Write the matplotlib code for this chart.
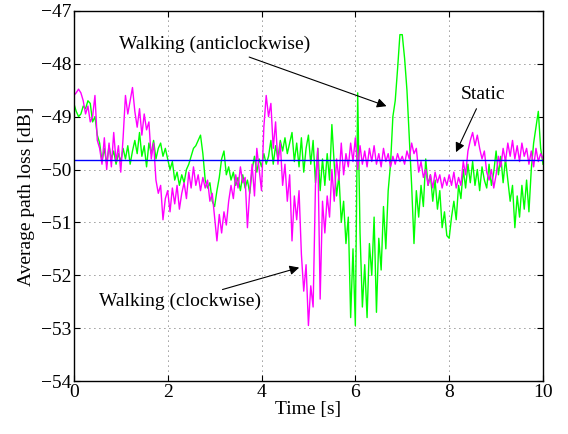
import numpy as np
import matplotlib
matplotlib.use('Agg')
import matplotlib.pyplot as plt

plt.rcParams['font.family'] = ['Liberation Serif', 'DejaVu Serif']
plt.rcParams['font.size'] = 14

# time axis, 0.05 s steps
t = np.arange(201) * 0.05

# walking (clockwise) - magenta
cw = [
    -48.60, -48.55, -48.48, -48.55, -48.70, -48.95, -48.80, -49.10, -49.00, -48.60,
    -49.45, -49.60, -49.90, -49.40, -50.00, -49.50, -49.95, -49.30, -49.85, -49.55,
    -50.05, -49.40, -48.60, -48.95, -48.70, -48.45, -48.90, -49.20, -48.85, -49.35,
    -48.95, -49.25, -49.10, -49.80, -49.50, -50.20, -50.45, -50.30, -50.95, -50.55,
    -50.40, -50.80, -50.35, -50.65, -50.30, -50.75, -50.45, -50.25, -50.55, -50.05,
    -50.35, -49.95, -50.30, -50.10, -50.40, -50.15, -50.35, -50.20, -50.60, -50.45,
    -50.90, -51.35, -50.85, -51.20, -50.80, -51.05, -50.60, -50.30, -50.55, -50.10,
    -50.35, -49.95, -50.25, -50.15, -51.10, -50.40, -49.90, -50.50, -49.60, -50.00,
    -50.40, -49.20, -48.60, -49.00, -48.75, -49.60, -49.10, -49.90, -49.50, -50.30,
    -49.90, -50.60, -50.10, -51.35, -50.50, -50.95, -50.40, -51.60, -52.30, -51.80,
    -52.95, -52.20, -52.60, -50.30, -49.60, -52.45, -50.60, -51.20, -50.50, -50.90,
    -50.00, -50.60, -49.80, -50.20, -49.50, -50.10, -49.70, -49.95, -49.50, -49.85,
    -49.40, -50.00, -49.55, -49.90, -49.65, -49.95, -49.60, -49.85, -49.55, -49.90,
    -49.70, -49.95, -49.60, -49.85, -49.70, -49.95, -49.75, -49.90, -49.70, -49.85,
    -49.75, -49.90, -49.65, -49.80, -49.50, -49.70, -49.60, -50.05, -49.85, -50.15,
    -50.00, -50.30, -50.10, -50.35, -50.05, -50.25, -50.10, -50.35, -50.15, -50.30,
    -50.10, -50.30, -50.05, -50.35, -50.15, -50.30, -49.85, -50.10, -49.65, -49.45,
    -49.30, -49.55, -49.35, -49.60, -49.80, -49.65, -50.05, -50.20, -50.00, -50.35,
    -50.10, -49.75, -49.95, -49.60, -49.85, -49.50, -49.75, -49.45, -49.80, -49.55,
    -49.85, -49.50, -49.75, -49.60, -49.90, -49.65, -49.95, -49.60, -49.85, -49.70,
    -49.80,
]

# walking (anticlockwise) - green
acw = [
    -48.75, -48.90, -49.00, -48.95, -48.80, -48.85, -48.70, -48.75, -49.10, -49.00,
    -49.35, -49.50, -49.85, -49.60, -49.90, -49.55, -49.80, -49.65, -49.90, -49.70,
    -49.85, -49.60, -49.80, -49.55, -49.90, -49.65, -49.45, -49.70, -49.30, -49.75,
    -49.55, -49.95, -49.50, -49.70, -49.45, -49.80, -49.60, -49.50, -49.75, -49.60,
    -49.80, -50.00, -49.85, -50.20, -50.05, -50.30, -50.10, -50.25, -50.00, -49.90,
    -49.75, -49.60, -49.55, -49.45, -49.35, -49.70, -50.20, -50.35, -50.25, -50.60,
    -50.70, -50.40, -50.15, -49.80, -49.65, -50.10, -49.95, -50.20, -50.05, -50.30,
    -50.15, -50.40, -50.10, -50.35, -50.20, -50.45, -50.00, -49.75, -50.05, -49.80,
    -49.95, -49.70, -49.90, -49.75, -49.45, -49.90, -49.55, -49.80, -49.45, -49.65,
    -49.40, -49.70, -49.50, -49.30, -49.85, -49.50, -49.95, -49.40, -50.05, -49.60,
    -49.35, -49.90, -49.45, -50.25, -49.60, -50.40, -49.80, -50.30, -49.70, -50.20,
    -49.15, -49.90, -50.50, -50.10, -51.00, -50.60, -51.40, -50.90, -52.80, -51.50,
    -52.95, -48.55, -51.20, -52.60, -51.80, -52.80, -51.40, -52.00, -50.90, -52.70,
    -51.30, -51.90, -50.70, -51.50, -50.40, -49.90, -49.00, -48.70, -48.10, -47.45,
    -47.45, -47.90, -48.50, -49.40, -50.30, -51.40, -50.40, -50.90, -50.30, -50.70,
    -49.80, -50.30, -50.10, -50.60, -50.20, -50.75, -50.40, -51.10, -50.80, -51.25,
    -51.30, -50.90, -50.60, -50.95, -50.30, -50.55, -50.00, -50.35, -49.90, -50.25,
    -49.85, -50.30, -50.00, -50.40, -49.95, -50.20, -50.35, -49.90, -50.30, -50.05,
    -49.65, -50.10, -49.75, -50.25, -49.80, -50.20, -50.60, -50.30, -51.10, -50.50,
    -50.90, -50.30, -50.75, -50.20, -50.80, -50.00, -49.50, -49.20, -48.90, -49.60,
    -49.90,
]

# static
t_static = [0, 10]
static = [-49.82, -49.82]

fig = plt.figure(figsize=(5.68, 4.34), dpi=100)
ax = fig.add_axes([0.130, 0.122, 0.826, 0.853])

ax.plot(t, acw, color=(0, 1, 0), lw=1.0)
ax.plot(t, cw, color=(1, 0, 1), lw=1.0)
ax.plot(t_static, static, color=(0, 0, 1), lw=1.0)

ax.set_xlim(0, 10)
ax.set_ylim(-54, -47)
ax.set_xticks([0, 2, 4, 6, 8, 10])
ax.set_yticks(range(-54, -46))
ax.grid(True, color='#333333', linestyle=(0, (1, 5)), linewidth=0.6)
ax.tick_params(direction='in', top=True, right=True, length=4, pad=2)
for s in ax.spines.values():
    s.set_linewidth(1.0)

ax.set_xlabel('Time [s]', labelpad=0)
ax.set_ylabel('Average path loss [dB]', labelpad=4)

arrow = dict(arrowstyle='-|>', color='black', lw=0.8, mutation_scale=14)
ax.annotate('Walking (anticlockwise)', xy=(6.72, -48.82), xytext=(3.0, -47.64),
            ha='center', va='center', arrowprops=arrow)
ax.annotate('Walking (clockwise)', xy=(4.86, -51.84), xytext=(2.26, -52.5),
            ha='center', va='center', arrowprops=arrow)
ax.annotate('Static', xy=(8.12, -49.72), xytext=(8.72, -48.59),
            ha='center', va='center', arrowprops=arrow)

fig.savefig('out.png', dpi=100)
